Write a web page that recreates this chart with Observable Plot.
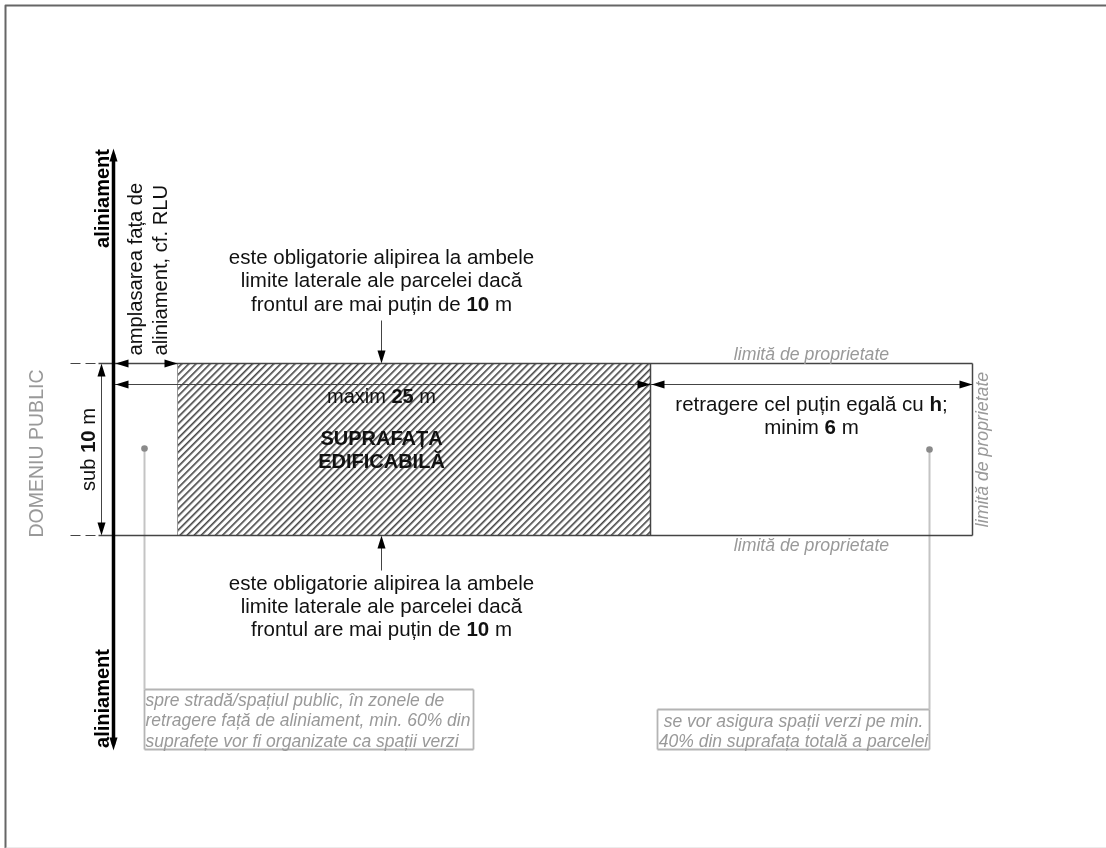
<!DOCTYPE html>
<html><head><meta charset="utf-8">
<style>html,body{margin:0;padding:0;background:#fff}svg{display:block;filter:blur(0.35px)}</style>
<script src="https://cdn.jsdelivr.net/npm/d3@7"></script>
<script src="https://cdn.jsdelivr.net/npm/@observablehq/plot@0.6"></script>
</head><body><div id="c"></div>
<script>
const FONT = "'Liberation Sans', Arial, sans-serif";
// plan geometry
const frame = [[1106,5],[5,5],[5,848]];
const frameBottom = [{x1:5,x2:1106,y1:847.5,y2:847.5}];
const buildable = [{x1:177,x2:650,y1:363,y2:535}];
const buildableLeft = [{x1:177,x2:177,y1:363,y2:535}];
const parcelEdges = [
  {x1:98,x2:972,y1:363,y2:363},{x1:98,x2:972,y1:535,y2:535},
  {x1:972,x2:972,y1:363,y2:535},{x1:650,x2:650,y1:363,y2:535}];
const dashes = [
  {x1:70,x2:80,y1:363,y2:363},{x1:85,x2:95,y1:363,y2:363},
  {x1:70,x2:80,y1:535,y2:535},{x1:85,x2:95,y1:535,y2:535}];
const dimensions = [
  {x1:113,x2:177,y1:363,y2:363},{x1:113,x2:650,y1:384,y2:384},
  {x1:650,x2:972,y1:384,y2:384},{x1:101,x2:101,y1:365,y2:533},
  {x1:381,x2:381,y1:320,y2:361},{x1:381,x2:381,y1:537,y2:570}];
const alignment = [{x1:113,x2:113,y1:154,y2:744}];
const arrowHeads = [
  {x:113,y:148,a:0},{x:113,y:750,a:180},
  {x:115,y:363,a:-90},{x:177,y:363,a:90},
  {x:115,y:384,a:-90},{x:650,y:384,a:90},
  {x:651,y:384,a:-90},{x:972,y:384,a:90},
  {x:101,y:363,a:0},{x:101,y:535,a:180},
  {x:381,y:363,a:180},{x:381,y:535,a:0}];
const leaders = [{x1:144,x2:144,y1:448,y2:689},{x1:929,x2:929,y1:449,y2:709}];
const leaderDots = [{x:144,y:448},{x:929,y:449}];
const noteBoxes = [{x1:144,x2:473,y1:689,y2:749},{x1:657,x2:929,y1:709,y2:749}];
// texts
const centerLabels = [
  {x:381,y:279.5,t:"este obligatorie alipirea la ambele\nlimite laterale ale parcelei dacă\nfrontul are mai puțin de **10** m"},
  {x:381,y:605,t:"este obligatorie alipirea la ambele\nlimite laterale ale parcelei dacă\nfrontul are mai puțin de **10** m"},
  {x:811,y:414.5,t:"retragere cel puțin egală cu **h**;\nminim **6** m"}];
const maxLabel = [{x:381,y:396,t:"maxim **25** m"}];
const boldCenter = [{x:381,y:449,t:"SUPRAFAȚA\nEDIFICABILĂ"}];
const alignLabels = [{x:102,y:198,t:"aliniament"},{x:102,y:698,t:"aliniament"}];
const rotatedNotes = [
  {x:134.5,y:355,t:"amplasarea fața de"},{x:159,y:355,t:"aliniament, cf. RLU"}];
const subLabel = [{x:88,y:449,t:"sub **10** m"}];
const domainLabel = [{x:36.5,y:453,t:"DOMENIU PUBLIC"}];
const limitLabels = [{x:811,y:354,t:"limită de proprietate"},{x:811,y:545,t:"limită de proprietate"}];
const limitSide = [{x:982,y:449,t:"limită de proprietate"}];
const note1 = [{x:145,y:719,t:"spre stradă/spațiul public, în zonele de\nretragere față de aliniament, min. 60% din\nsuprafețe vor fi organizate ca spații verzi"}];
const note2 = [{x:793,y:730,t:"se vor asigura spații verzi pe min.\n40% din suprafața totală a parcelei"}];

const head = {draw(ctx){ctx.moveTo(0,0);ctx.lineTo(4,13);ctx.lineTo(-4,13);ctx.closePath();}};
const seg = (d,o) => Plot.link(d,{x1:"x1",x2:"x2",y1:"y1",y2:"y2",...o});
const txt = (d,o) => Plot.text(d,{x:"x",y:"y",text:"t",fontFamily:FONT,fill:"#111",...o});

const chart = Plot.plot({
  width:1106,height:848,margin:0,
  x:{domain:[0,1106],range:[0,1106],axis:null},
  y:{domain:[0,848],range:[0,848],axis:null},
  marks:[
    () => {
      const s = document.createElementNS("http://www.w3.org/2000/svg","g");
      s.innerHTML = `<defs><pattern id="hatch" patternUnits="userSpaceOnUse" width="5" height="5" patternTransform="rotate(45)"><rect width="5" height="5" fill="#fff"/><rect x="0" width="1.6" height="5" fill="#444"/></pattern></defs>`;
      return s;
    },
    Plot.line(frame,{x:d=>d[0],y:d=>d[1],stroke:"#666",strokeWidth:2}),
    seg(frameBottom,{stroke:"#d8d8d8",strokeWidth:1}),
    Plot.rect(buildable,{x1:"x1",x2:"x2",y1:"y1",y2:"y2",fill:"url(#hatch)",inset:0}),
    seg(buildableLeft,{stroke:"#999",strokeWidth:1}),
    seg(noteBoxes.flatMap(b=>[
      {x1:b.x1,x2:b.x2,y1:b.y1,y2:b.y1},{x1:b.x1,x2:b.x2,y1:b.y2,y2:b.y2},
      {x1:b.x1,x2:b.x1,y1:b.y1,y2:b.y2},{x1:b.x2,x2:b.x2,y1:b.y1,y2:b.y2}]),{stroke:"#b4b4b4",strokeWidth:1.8}),
    seg(leaders,{stroke:"#c4c4c4",strokeWidth:2}),
    Plot.dot(leaderDots,{x:"x",y:"y",r:3.3,fill:"#8a8a8a"}),
    seg(dashes,{stroke:"#444",strokeWidth:1}),
    seg(parcelEdges,{stroke:"#444",strokeWidth:1.5}),
    seg(dimensions,{stroke:"#444",strokeWidth:1}),
    seg(alignment,{stroke:"#000",strokeWidth:3.5}),
    Plot.dot(arrowHeads,{x:"x",y:"y",rotate:"a",symbol:()=>head,fill:"#000",stroke:"none"}),
    txt(centerLabels,{fontSize:20.5,lineHeight:1.14}),
    txt(maxLabel,{fontSize:20}),
    txt(boldCenter,{fontSize:20,fontWeight:"bold",lineHeight:1.15}),
    txt(alignLabels,{fontSize:20,fontWeight:"bold",rotate:-90,fill:"#000"}),
    txt(rotatedNotes,{fontSize:20.2,rotate:-90,textAnchor:"start",lineHeight:1.14}),
    txt(subLabel,{fontSize:20.2,rotate:-90}),
    txt(domainLabel,{fontSize:19.5,rotate:-90,fill:"#999"}),
    txt(limitLabels,{fontSize:17.7,fontStyle:"italic",fill:"#999"}),
    txt(limitSide,{fontSize:17.7,fontStyle:"italic",rotate:-90,fill:"#999"}),
    txt(note1,{fontSize:17.5,fontStyle:"italic",fill:"#999",textAnchor:"start",lineHeight:1.17}),
    txt(note2,{fontSize:17.5,fontStyle:"italic",fill:"#999",lineHeight:1.17})
  ]
});
// turn **bold** markers into bold runs inside the real text
chart.querySelectorAll("text, tspan").forEach(n=>{
  if(n.children.length||!n.textContent.includes("**")) return;
  const parts=n.textContent.split("**"); n.textContent="";
  parts.forEach((p,i)=>{
    const t=document.createElementNS("http://www.w3.org/2000/svg","tspan");
    t.textContent=p; if(i%2) t.setAttribute("font-weight","bold"); n.appendChild(t);
  });
});
document.getElementById("c").appendChild(chart);
</script></body></html>
